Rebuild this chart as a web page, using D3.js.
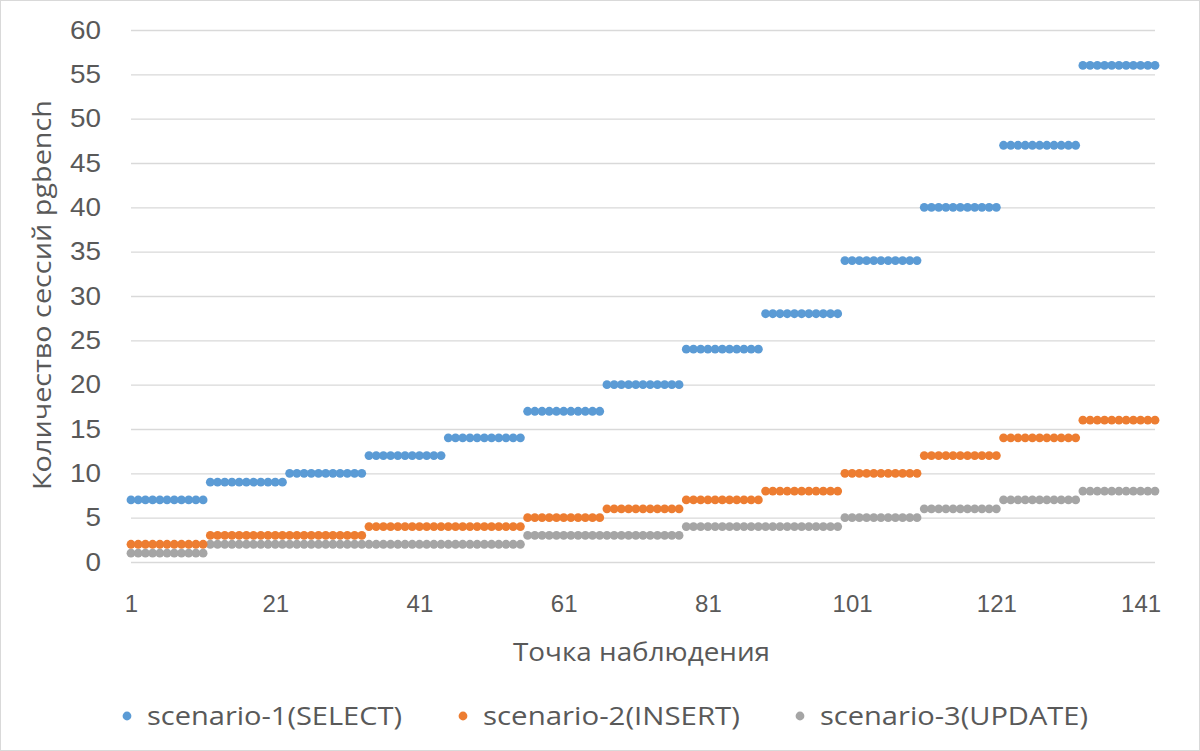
<!DOCTYPE html>
<html>
<head>
<meta charset="utf-8">
<script src="https://cdn.jsdelivr.net/npm/d3@7"></script>
<style>
  body { margin: 0; background: #fff; }
  svg { font-family: "Open Sans", sans-serif; }
</style>
</head>
<body>
<svg class="chart"></svg>
<script>
const seriesNames = ['scenario-1(SELECT)', 'scenario-2(INSERT)', 'scenario-3(UPDATE)'];
const colours = ['#5b9bd5', '#ed7d31', '#a5a5a5'];

const select1 = [
  7, 7, 7, 7, 7, 7, 7, 7, 7, 7, 7,
  9, 9, 9, 9, 9, 9, 9, 9, 9, 9, 9,
  10, 10, 10, 10, 10, 10, 10, 10, 10, 10, 10,
  12, 12, 12, 12, 12, 12, 12, 12, 12, 12, 12,
  14, 14, 14, 14, 14, 14, 14, 14, 14, 14, 14,
  17, 17, 17, 17, 17, 17, 17, 17, 17, 17, 17,
  20, 20, 20, 20, 20, 20, 20, 20, 20, 20, 20,
  24, 24, 24, 24, 24, 24, 24, 24, 24, 24, 24,
  28, 28, 28, 28, 28, 28, 28, 28, 28, 28, 28,
  34, 34, 34, 34, 34, 34, 34, 34, 34, 34, 34,
  40, 40, 40, 40, 40, 40, 40, 40, 40, 40, 40,
  47, 47, 47, 47, 47, 47, 47, 47, 47, 47, 47,
  56, 56, 56, 56, 56, 56, 56, 56, 56, 56, 56,
];

const insert2 = [
  2, 2, 2, 2, 2, 2, 2, 2, 2, 2, 2,
  3, 3, 3, 3, 3, 3, 3, 3, 3, 3, 3,
  3, 3, 3, 3, 3, 3, 3, 3, 3, 3, 3,
  4, 4, 4, 4, 4, 4, 4, 4, 4, 4, 4,
  4, 4, 4, 4, 4, 4, 4, 4, 4, 4, 4,
  5, 5, 5, 5, 5, 5, 5, 5, 5, 5, 5,
  6, 6, 6, 6, 6, 6, 6, 6, 6, 6, 6,
  7, 7, 7, 7, 7, 7, 7, 7, 7, 7, 7,
  8, 8, 8, 8, 8, 8, 8, 8, 8, 8, 8,
  10, 10, 10, 10, 10, 10, 10, 10, 10, 10, 10,
  12, 12, 12, 12, 12, 12, 12, 12, 12, 12, 12,
  14, 14, 14, 14, 14, 14, 14, 14, 14, 14, 14,
  16, 16, 16, 16, 16, 16, 16, 16, 16, 16, 16,
];

const update3 = [
  1, 1, 1, 1, 1, 1, 1, 1, 1, 1, 1,
  2, 2, 2, 2, 2, 2, 2, 2, 2, 2, 2,
  2, 2, 2, 2, 2, 2, 2, 2, 2, 2, 2,
  2, 2, 2, 2, 2, 2, 2, 2, 2, 2, 2,
  2, 2, 2, 2, 2, 2, 2, 2, 2, 2, 2,
  3, 3, 3, 3, 3, 3, 3, 3, 3, 3, 3,
  3, 3, 3, 3, 3, 3, 3, 3, 3, 3, 3,
  4, 4, 4, 4, 4, 4, 4, 4, 4, 4, 4,
  4, 4, 4, 4, 4, 4, 4, 4, 4, 4, 4,
  5, 5, 5, 5, 5, 5, 5, 5, 5, 5, 5,
  6, 6, 6, 6, 6, 6, 6, 6, 6, 6, 6,
  7, 7, 7, 7, 7, 7, 7, 7, 7, 7, 7,
  8, 8, 8, 8, 8, 8, 8, 8, 8, 8, 8,
];

const xTicks = [1, 21, 41, 61, 81, 101, 121, 141];
const yTicks = [0, 5, 10, 15, 20, 25, 30, 35, 40, 45, 50, 55, 60];

const totalWidth = 1200;
const totalHeight = 751;
const margin = {
  top: 30,
  right: 45,
  bottom: 189,
  left: 131,
};
const width = totalWidth - margin.left - margin.right;
const height = totalHeight - margin.top - margin.bottom;
const textColour = '#595959';

const root = d3.select('.chart')
  .attr('width', totalWidth)
  .attr('height', totalHeight);

root.append('rect')
  .attr('x', 0.5)
  .attr('y', 0.5)
  .attr('width', totalWidth - 1)
  .attr('height', totalHeight - 1)
  .attr('fill', '#fff')
  .attr('stroke', '#d9d9d9');

const svg = root.append('g')
  .attr('transform', `translate(${margin.left}, ${margin.top})`);

const x = d3.scaleLinear()
  .domain([1, select1.length])
  .range([0, width]);

const y = d3.scaleLinear()
  .domain([0, 60])
  .range([height, 0]);

// horizontal gridlines + y labels
const yAxis = d3.axisLeft(y)
  .tickValues(yTicks)
  .tickSize(-width)
  .tickPadding(30);

svg.append('g')
  .attr('class', 'y axis')
  .call(yAxis)
  .call(g => g.select('.domain').remove())
  .call(g => g.selectAll('.tick line').attr('stroke', '#d9d9d9').attr('stroke-width', 1.3))
  .call(g => g.selectAll('.tick text')
    .attr('fill', textColour)
    .attr('textLength', d => (d < 10 ? 15.5 : 31))
    .attr('lengthAdjust', 'spacingAndGlyphs')
    .style('font-size', '25px'));

const xAxis = d3.axisBottom(x)
  .tickValues(xTicks)
  .tickSize(0)
  .tickPadding(33);

svg.append('g')
  .attr('class', 'x axis')
  .attr('transform', `translate(0, ${height})`)
  .call(xAxis)
  .call(g => g.select('.domain').remove())
  .call(g => g.selectAll('.tick text')
    .attr('fill', textColour)
    .style('font-size', '24px'));

const dataset = [select1, insert2, update3].map((values, idx) => ({
  name: seriesNames[idx],
  colour: colours[idx],
  values,
}));

dataset.slice().reverse().forEach((series) => {
  svg.append('g')
    .attr('class', 'series')
    .selectAll('circle')
    .data(series.values)
    .enter()
    .append('circle')
    .attr('cx', (d, i) => x(i + 1))
    .attr('cy', d => y(d))
    .attr('r', 4.4)
    .attr('fill', series.colour);
});

// axis titles
root.append('text')
  .attr('x', 513)
  .attr('y', 661)
  .attr('textLength', 257)
  .attr('lengthAdjust', 'spacingAndGlyphs')
  .attr('fill', textColour)
  .style('font-size', '25px')
  .text('Точка наблюдения');

root.append('text')
  .attr('transform', 'translate(51, 490) rotate(-90)')
  .attr('textLength', 390)
  .attr('lengthAdjust', 'spacingAndGlyphs')
  .attr('fill', textColour)
  .style('font-size', '25px')
  .text('Количество сессий pgbench');

// legend
const legendX = [127, 463, 800];
const legendLen = [255, 257, 268];
const legend = root.append('g')
  .attr('class', 'legend')
  .selectAll('g')
  .data(dataset)
  .enter()
  .append('g')
  .attr('transform', (d, i) => `translate(${legendX[i]}, 716)`);

legend.append('circle')
  .attr('r', 4.4)
  .attr('fill', d => d.colour);

legend.append('text')
  .attr('x', 20)
  .attr('dy', '0.35em')
  .attr('textLength', (d, i) => legendLen[i])
  .attr('lengthAdjust', 'spacingAndGlyphs')
  .attr('fill', textColour)
  .style('font-size', '25px')
  .text(d => d.name);
</script>
</body>
</html>
